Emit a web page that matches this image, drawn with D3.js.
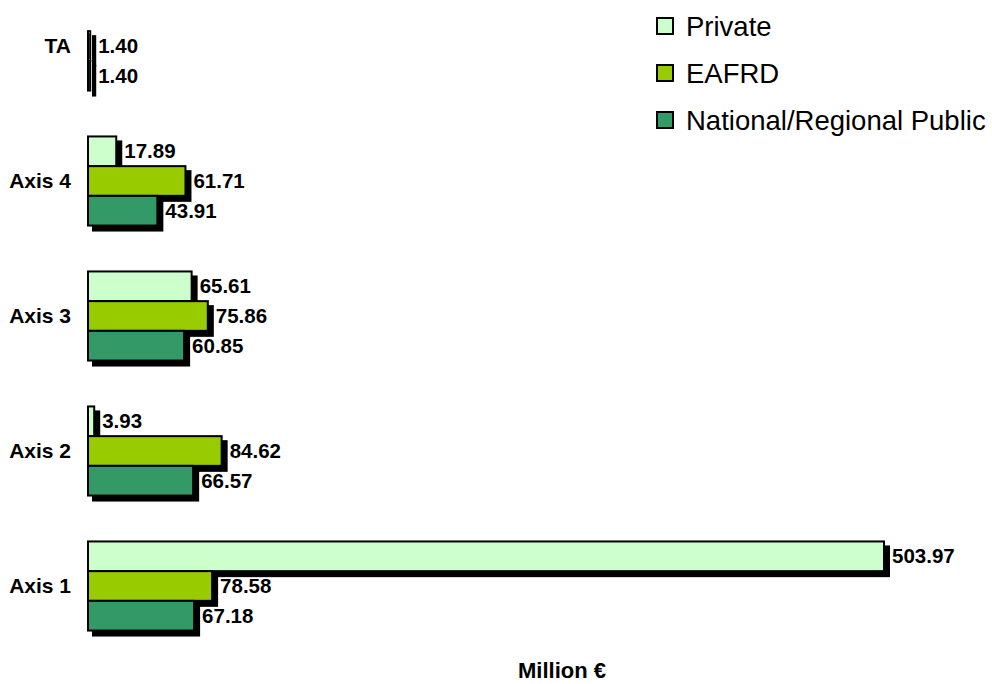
<!DOCTYPE html>
<html>
<head>
<meta charset="utf-8">
<script src="https://unpkg.com/d3@7/dist/d3.min.js"></script>
<style>
  body { margin: 0; background: #fff; }
  text { font-family: "Liberation Sans", Arial, sans-serif; }
</style>
</head>
<body>
<div class="chart"></div>
<script>
// categories top to bottom
const categories = ["TA", "Axis 4", "Axis 3", "Axis 2", "Axis 1"];
const seriesNames = ["Private", "EAFRD", "National/Regional Public"];
const colors = ["#CCFFCC", "#99CC00", "#339966"];

const privateVals = [null, 17.89, 65.61, 3.93, 503.97];
const eafrdVals = [1.40, 61.71, 75.86, 84.62, 78.58];
const nationalVals = [1.40, 43.91, 60.85, 66.57, 67.18];

const width = 992, height = 684;

const data = [];
categories.forEach((c, i) => {
	[privateVals, eafrdVals, nationalVals].forEach((vals, s) => {
		if (vals[i] != null) data.push({ cat: c, series: seriesNames[s], value: vals[i], color: colors[s] });
	});
});

const svg = d3.select(".chart").append("svg")
	.attr("width", width)
	.attr("height", height);

const xScale = d3.scaleLinear().domain([0, 503.97]).range([88, 884]);
const yScale = d3.scaleBand().domain(categories).range([-21.5, 653.5]).paddingInner(0.34).paddingOuter(0.17);
const ySub = d3.scaleBand().domain(seriesNames).range([0, yScale.bandwidth()]);

const off = 5;

// shadows first
svg.append("g").selectAll("rect")
	.data(data)
	.enter()
	.append("rect")
	.attr("x", xScale(0) + off)
	.attr("y", (d) => yScale(d.cat) + ySub(d.series) + off)
	.attr("width", (d) => xScale(d.value) - xScale(0))
	.attr("height", ySub.bandwidth())
	.attr("fill", "black")
	.attr("stroke", "black")
	.attr("stroke-width", 2);

svg.append("g").selectAll("rect")
	.data(data)
	.enter()
	.append("rect")
	.attr("x", xScale(0))
	.attr("y", (d) => yScale(d.cat) + ySub(d.series))
	.attr("width", (d) => xScale(d.value) - xScale(0))
	.attr("height", ySub.bandwidth())
	.attr("fill", (d) => d.color)
	.attr("stroke", "black")
	.attr("stroke-width", 2);

// value labels
svg.append("g").selectAll("text")
	.data(data)
	.enter()
	.append("text")
	.attr("x", (d) => xScale(d.value) + 8)
	.attr("y", (d) => yScale(d.cat) + ySub(d.series) + ySub.bandwidth() / 2 + 7)
	.attr("font-size", "20.5px")
	.attr("font-weight", "bold")
	.text((d) => d.value.toFixed(2));

// category labels
svg.append("g").selectAll("text")
	.data(categories)
	.enter()
	.append("text")
	.attr("x", 71)
	.attr("y", (d) => yScale(d) + yScale.bandwidth() / 2 + 7)
	.attr("text-anchor", "end")
	.attr("font-size", "21px")
	.attr("font-weight", "bold")
	.text((d) => d);

svg.append("text")
	.attr("x", 562)
	.attr("y", 678)
	.attr("text-anchor", "middle")
	.attr("font-size", "22px")
	.attr("font-weight", "bold")
	.text("Million €");

// legend
const legend = svg.append("g");
legend.selectAll("rect")
	.data(seriesNames)
	.enter()
	.append("rect")
	.attr("x", 657)
	.attr("y", (d, i) => 18 + 47 * i)
	.attr("width", 16)
	.attr("height", 16)
	.attr("fill", (d, i) => colors[i])
	.attr("stroke", "black")
	.attr("stroke-width", 2);

legend.selectAll("text")
	.data(seriesNames)
	.enter()
	.append("text")
	.attr("x", 686)
	.attr("y", (d, i) => 36 + 47 * i)
	.attr("font-size", "27.5px")
	.text((d) => d);
</script>
</body>
</html>
